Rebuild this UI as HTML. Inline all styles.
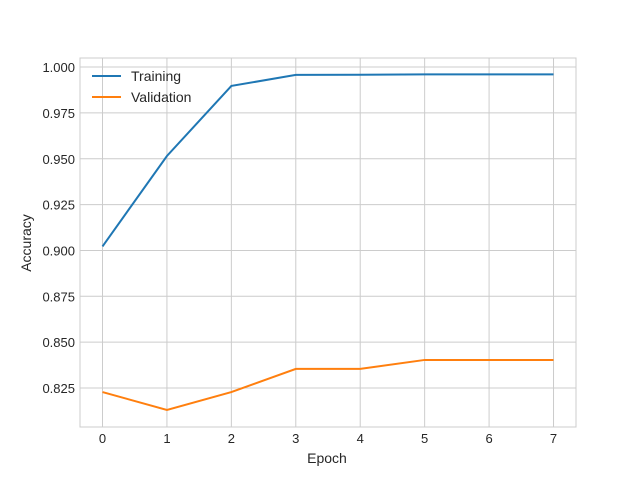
<!DOCTYPE html>
<html><head><meta charset="utf-8"><style>
body{margin:0;background:#fff;}
svg text{font-family:"Liberation Sans",sans-serif;fill:#262626;}
</style></head><body>
<svg id="chart" width="640" height="480">
<rect x="80" y="58" width="496" height="369" fill="#fff" stroke="#ccc" stroke-width="1"/>
<g id="grid"></g><g id="ticks"></g><g id="lines"></g>
<text x="327" y="463" font-size="14" text-anchor="middle">Epoch</text>
<text transform="translate(31,243) rotate(-90)" font-size="14" text-anchor="middle">Accuracy</text>
<g>
<line x1="92" y1="76" x2="121" y2="76" stroke="#1f77b4" stroke-width="2"/>
<text x="131" y="81" font-size="14">Training</text>
<line x1="92" y1="97" x2="121" y2="97" stroke="#ff7f0e" stroke-width="2"/>
<text x="131" y="102" font-size="14">Validation</text>
</g>
</svg>
<script>
const epochs=[0,1,2,3,4,5,6,7];
const training=[0.9022,0.9515,0.9897,0.9957,0.9958,0.996,0.996,0.996];
const validation=[0.8228,0.813,0.8228,0.8354,0.8354,0.8403,0.8403,0.8403];
const yTicks=[0.825,0.850,0.875,0.900,0.925,0.950,0.975,1.000];
const xTicks=[0,1,2,3,4,5,6,7];
const NS="http://www.w3.org/2000/svg";
function xs(v){return 102.5+v*64.43;}
function ys(v){return 388-(v-0.825)*1834;}
function mk(tag,attrs,parent){const e=document.createElementNS(NS,tag);for(const k in attrs)e.setAttribute(k,attrs[k]);document.getElementById(parent).appendChild(e);return e;}
xTicks.forEach(t=>{
 const g=mk('line',{x1:xs(t),x2:xs(t),y1:58,y2:427,stroke:'#ccc','stroke-width':1},'grid');
 
 
 const l=mk('text',{x:xs(t),y:443,'font-size':13,'text-anchor':'middle'},'ticks');
 l.textContent=t;
 
 
});
yTicks.forEach(t=>{
 const g=mk('line',{x1:80,x2:576,y1:ys(t),y2:ys(t),stroke:'#ccc','stroke-width':1},'grid');
 
 
 const l=mk('text',{x:75,y:ys(t)+5,'font-size':13,'text-anchor':'end'},'ticks');
 l.textContent=t.toFixed(3);
 
 
});
function line(data,color,name){
 const p=mk('polyline',{points:data.map((v,i)=>xs(epochs[i])+','+ys(v)).join(' '),fill:'none',stroke:color,'stroke-width':2},'lines');
 
 
}
line(training,'#1f77b4','training-line');
line(validation,'#ff7f0e','validation-line');
</script>
</body></html>
